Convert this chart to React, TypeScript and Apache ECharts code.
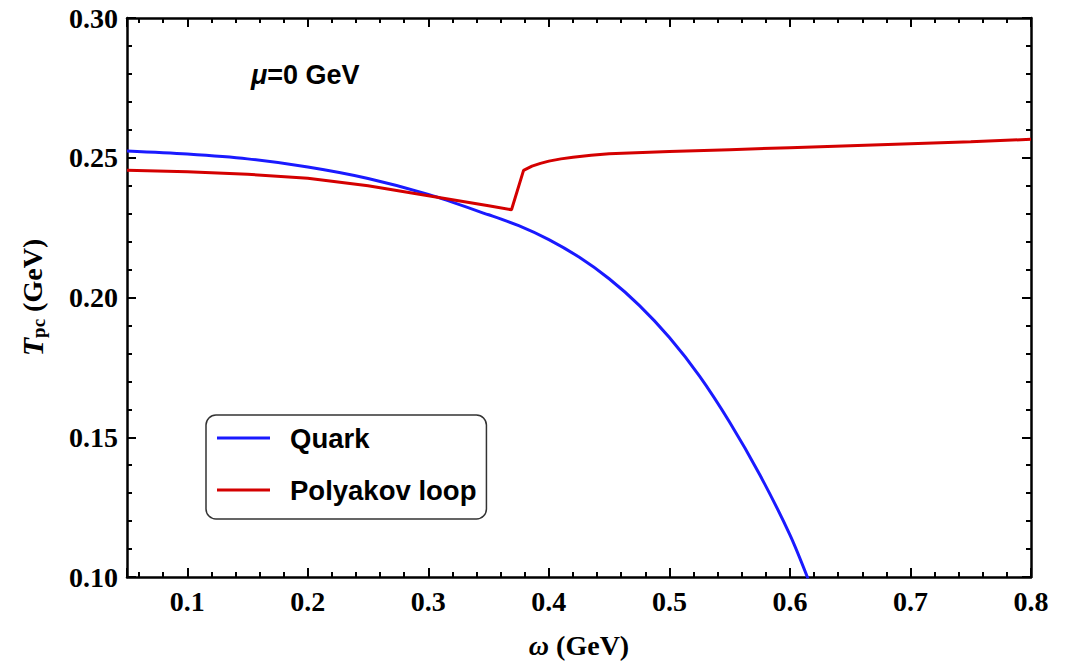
import React, { useEffect, useRef } from "react";
import * as echarts from "echarts";

const quarkOmega = [0.05, 0.1, 0.15, 0.2, 0.25, 0.3, 0.35, 0.375, 0.4, 0.425, 0.45, 0.475, 0.5, 0.525, 0.55, 0.575, 0.6, 0.615];
const quarkT = [0.2524, 0.2513, 0.2496, 0.2467, 0.2426, 0.2369, 0.2296, 0.2257, 0.2207, 0.21445, 0.2067, 0.1972, 0.1857, 0.1719, 0.1554, 0.1366, 0.1151, 0.0994];

const polyOmega = [0.05, 0.1, 0.15, 0.2, 0.25, 0.3, 0.35, 0.369, 0.379, 0.386, 0.393, 0.4, 0.41, 0.42, 0.435, 0.45, 0.5, 0.55, 0.6, 0.65, 0.7, 0.75, 0.8];
const polyT = [0.2455, 0.245, 0.2441, 0.2427, 0.24, 0.2364, 0.2328, 0.2314, 0.2455, 0.247, 0.248, 0.2488, 0.2496, 0.2502, 0.2509, 0.2514, 0.2522, 0.2529, 0.2536, 0.2543, 0.255, 0.2557, 0.2566];

const seriesNames = ["Quark", "Polyakov loop"];
const xMin = 0.05, xMax = 0.8;
const yMin = 0.1, yMax = 0.3, yStep = 0.05;

const SERIF = "Liberation Serif";
const SANS = "Liberation Sans";

export default function App() {
  const ref = useRef<HTMLDivElement>(null);
  useEffect(() => {
    document.body.style.margin = "0";
    const chart = echarts.init(ref.current!, null, { renderer: "svg" });
    const axisLine = { show: true, onZero: false, lineStyle: { color: "#000", width: 2.5 } };
    const labelStyle = { fontFamily: SERIF, fontWeight: "bold" as const, fontSize: 28, color: "#000" };
    const tick = { show: true, inside: true, length: 9, lineStyle: { color: "#000", width: 2 } };
    const minor = { show: true, splitNumber: 5, length: 5, lineStyle: { color: "#000", width: 2 } };
    const xBase = (pos: "bottom" | "top", labels: boolean) => ({
      type: "value",
      position: pos,
      min: xMin,
      max: xMax,
      splitNumber: 7,
      axisLine,
      axisTick: tick,
      minorTick: minor,
      splitLine: { show: false },
      axisLabel: {
        show: labels,
        margin: 10,
        ...labelStyle,
        formatter: (v: number) => (Math.abs(v - xMin) < 1e-9 ? "" : v.toFixed(1)),
      },
    });
    const yBase = (pos: "left" | "right", labels: boolean) => ({
      type: "value",
      position: pos,
      min: yMin,
      max: yMax,
      interval: yStep,
      axisLine,
      axisTick: tick,
      minorTick: minor,
      splitLine: { show: false },
      axisLabel: { show: labels, margin: 9, ...labelStyle, formatter: (v: number) => v.toFixed(2) },
    });
    const x0: any = xBase("bottom", true);
    x0.name = "{i|ω} (GeV)";
    x0.nameLocation = "middle";
    x0.nameGap = 54;
    x0.nameMoveOverlap = false;
    x0.nameTextStyle = {
      fontFamily: SERIF, fontWeight: "bold", fontSize: 28, color: "#000",
      rich: { i: { fontFamily: SERIF, fontWeight: "bold", fontStyle: "italic", fontSize: 28, color: "#000" } },
    };
    const y0: any = yBase("left", true);
    y0.name = "{i|T}{s|pc} (GeV)";
    y0.nameLocation = "middle";
    y0.nameGap = 79;
    y0.nameMoveOverlap = false;
    y0.nameTextStyle = {
      fontFamily: SERIF, fontWeight: "bold", fontSize: 28, color: "#000", lineHeight: 32,
      rich: {
        i: { fontFamily: SERIF, fontWeight: "bold", fontStyle: "italic", fontSize: 30, color: "#000", lineHeight: 32 },
        s: { fontFamily: SERIF, fontWeight: "bold", fontSize: 19, color: "#000", lineHeight: 17, verticalAlign: "bottom" },
      },
    };
    const xData = (xs: number[], ys: number[]) => xs.map((x, i) => [x, ys[i]]);
    chart.setOption({
      animation: false,
      backgroundColor: "#fff",
      grid: { left: 127, right: 48, top: 18, bottom: 86, containLabel: false, outerBoundsMode: "none" },
      title: {
        text: "{i|μ}=0 GeV",
        left: 246,
        top: 56,
        textStyle: {
          fontFamily: SANS, fontWeight: "bold", fontSize: 27, color: "#000",
          rich: { i: { fontFamily: SANS, fontWeight: "bold", fontStyle: "italic", fontSize: 27, color: "#000" } },
        },
      },
      legend: {
        orient: "vertical",
        left: 206,
        top: 415,
        icon: "rect",
        itemWidth: 53,
        itemHeight: 3,
        itemGap: 22,
        padding: [8, 10, 14, 11],
        borderColor: "#333",
        borderWidth: 1.5,
        borderRadius: 10,
        backgroundColor: "#fff",
        data: seriesNames,
        textStyle: { fontFamily: SANS, fontWeight: "bold", fontSize: 27.5, color: "#000", lineHeight: 30, padding: [0, 0, 0, 15] },
      },
      xAxis: [x0, xBase("top", false)],
      yAxis: [y0, yBase("right", false)],
      series: [
        {
          name: seriesNames[0],
          type: "line",
          data: xData(quarkOmega, quarkT),
          smooth: 0.3,
          showSymbol: false,
          symbol: "none",
          clip: true,
          color: "#1a1aff",
          lineStyle: { width: 3, color: "#1a1aff" },
        },
        {
          name: seriesNames[1],
          type: "line",
          data: xData(polyOmega, polyT),
          smooth: false,
          showSymbol: false,
          symbol: "none",
          clip: true,
          color: "#d40000",
          lineStyle: { width: 3, color: "#d40000" },
        },
      ],
    });
    return () => chart.dispose();
  }, []);
  return <div ref={ref} style={{ width: 1079, height: 663 }} />;
}
